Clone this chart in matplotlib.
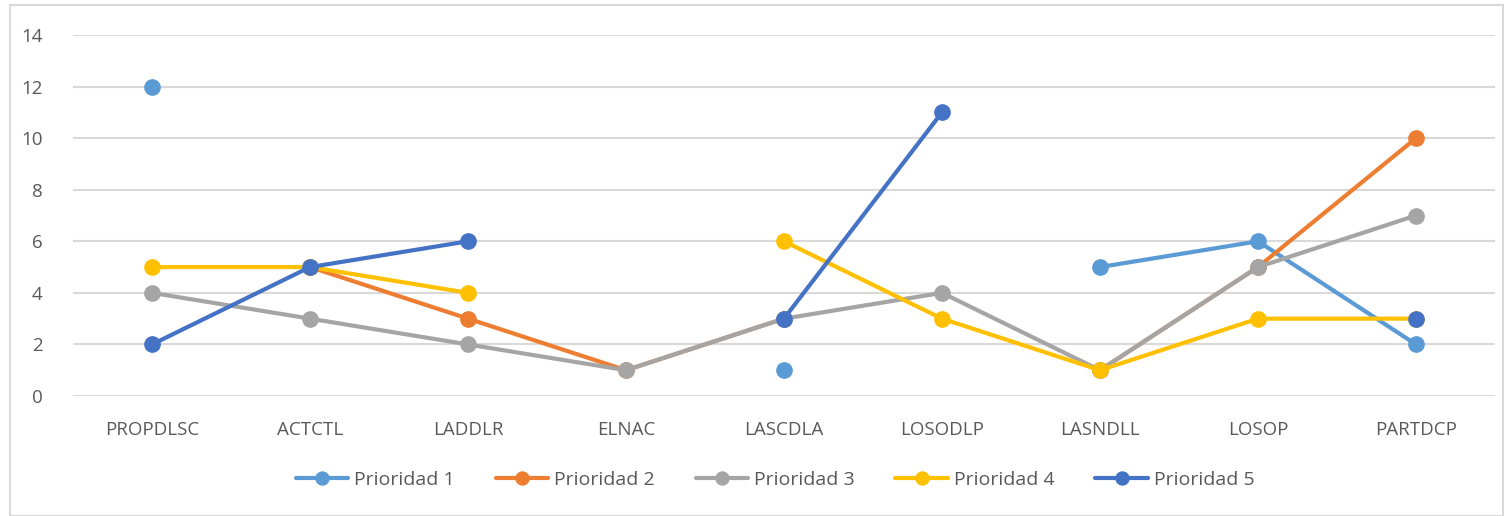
import numpy as np
import matplotlib.pyplot as plt
from matplotlib.patches import Rectangle

nan = np.nan
categorias = ["PROPDLSC", "ACTCTL", "LADDLR", "ELNAC", "LASCDLA",
              "LOSODLP", "LASNDLL", "LOSOP", "PARTDCP"]
prioridad_1 = [12, nan, nan, nan, 1, nan, 5, 6, 2]
prioridad_2 = [nan, 5, 3, 1, 3, nan, 1, 5, 10]
prioridad_3 = [4, 3, 2, 1, 3, 4, 1, 5, 7]
prioridad_4 = [5, 5, 4, nan, 6, 3, 1, 3, 3]
prioridad_5 = [2, 5, 6, nan, 3, 11, nan, nan, 3]

series = [
    ("Prioridad 1", prioridad_1, "#5B9BD5"),
    ("Prioridad 2", prioridad_2, "#ED7D31"),
    ("Prioridad 3", prioridad_3, "#A5A5A5"),
    ("Prioridad 4", prioridad_4, "#FFC000"),
    ("Prioridad 5", prioridad_5, "#4472C4"),
]

plt.rcParams['font.family'] = ['Open Sans', 'DejaVu Sans']

fig = plt.figure(figsize=(15.08, 5.16), dpi=100)
ax = fig.add_axes([73 / 1508, 1 - 396 / 516, (1495 - 73) / 1508, (396 - 35) / 516])

x = np.arange(len(categorias))
for nombre, valores, color in series:
    ax.plot(x, valores, color=color, lw=3, marker="o", markersize=11,
            solid_capstyle="round", label=nombre, zorder=3)

ax.set_xlim(-0.5, len(categorias) - 0.5)
ax.set_ylim(0, 14)
ax.set_yticks(range(0, 15, 2))
ax.set_xticks(x)
ax.set_xticklabels(categorias)
ax.yaxis.grid(True, color="#D9D9D9", lw=1.5)
ax.set_axisbelow(True)
for s in ax.spines.values():
    s.set_visible(False)
ax.tick_params(length=0, colors="#595959", labelsize=13.5)
ax.tick_params(axis="x", pad=18)
ax.tick_params(axis="y", pad=22)

fig.legend(loc="center", bbox_to_anchor=(0.514, 1 - 480 / 516), ncol=5,
           frameon=False, fontsize=14, labelcolor="#595959", markerscale=0.85,
           handlelength=2.7, columnspacing=2.1, handletextpad=0.3)

fig.patches.append(Rectangle((10 / 1508, 0), 1493 / 1508, 1 - 5 / 516,
                             transform=fig.transFigure, fill=False,
                             edgecolor="#D9D9D9", lw=1.5))

fig.savefig("out.png", dpi=100)
